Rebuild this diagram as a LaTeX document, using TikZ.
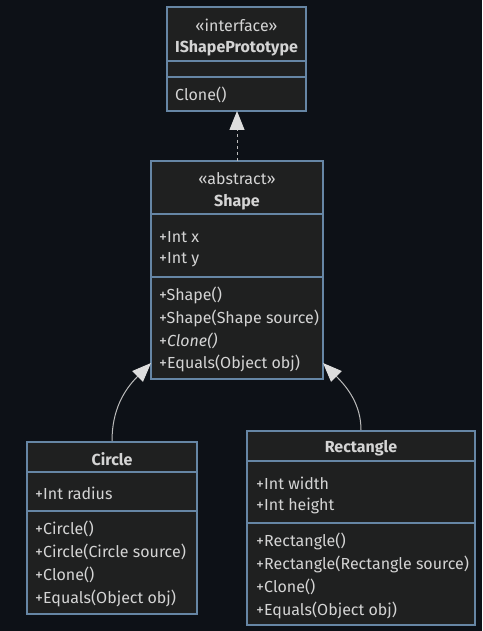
\documentclass[tikz,border=0pt]{standalone}
\usepackage{fontspec}
\setmainfont{Fira Sans}
\usetikzlibrary{arrows.meta}
\definecolor{bgc}{HTML}{0D1117}
\definecolor{boxfill}{HTML}{1F2020}
\definecolor{boxline}{HTML}{6686A5}
\definecolor{txt}{HTML}{D4D4D4}
\definecolor{edge}{HTML}{BBBBBB}
\definecolor{head}{HTML}{DDDDDD}
\tikzset{
  umlbox/.style={draw=boxline, fill=boxfill, line width=1.2pt, inner sep=0pt},
  ctext/.style={text=txt, inner sep=0pt, anchor=center, font=\fontsize{16}{19}\selectfont},
  ltext/.style={text=txt, inner sep=0pt, anchor=west, font=\fontsize{16}{19}\selectfont},
  sep/.style={draw=boxline, line width=1.2pt},
  inherit/.style={draw=edge, line width=1pt, -{Triangle[length=19pt,width=15pt,fill=head,color=head]}},
  realize/.style={draw=edge, line width=1pt, dash pattern=on 3pt off 3pt, -{Triangle[length=19pt,width=15pt,fill=head,color=head]}}
}
\begin{document}
\begin{tikzpicture}[x=1pt,y=-1pt]
\fill[bgc] (0,0) rectangle (482,631);
\useasboundingbox (0,0) rectangle (482,631);

% IShapePrototype
\node[umlbox, minimum width=139pt, minimum height=104pt] (iface) at (236.5,59) {};
\node[ctext] (ifaceSt) at (236.5,25) {«interface»};
\node[ctext, font=\fontsize{16}{19}\selectfont\bfseries] (ifaceN) at (236.5,48) {IShapePrototype};
\draw[sep] (167,61) -- (306,61);
\draw[sep] (167,77) -- (306,77);
\node[ltext] (ifaceM1) at (175,95) {Clone()};

% Shape
\node[umlbox, minimum width=172pt, minimum height=218pt] (shape) at (237,270) {};
\node[ctext] (shapeSt) at (237,179) {«abstract»};
\node[ctext, font=\fontsize{16}{19}\selectfont\bfseries] (shapeN) at (237,202) {Shape};
\draw[sep] (151,214) -- (323,214);
\node[ltext] (shapeA1) at (159,237) {+Int x};
\node[ltext] (shapeA2) at (159,260) {+Int y};
\draw[sep] (151,277) -- (323,277);
\node[ltext] (shapeM1) at (159,295) {+Shape()};
\node[ltext] (shapeM2) at (159,318) {+Shape(Shape source)};
\node[ltext] (shapeM3) at (159,341) {+\textit{Clone()}};
\node[ltext] (shapeM4) at (159,363) {+Equals(Object obj)};

% Circle
\node[umlbox, minimum width=170pt, minimum height=172pt] (circle) at (112,528) {};
\node[ctext, font=\fontsize{16}{19}\selectfont\bfseries] (circleN) at (112,459) {Circle};
\draw[sep] (27,472) -- (197,472);
\node[ltext] (circleA1) at (35,493) {+Int radius};
\draw[sep] (27,511) -- (197,511);
\node[ltext] (circleM1) at (35,529) {+Circle()};
\node[ltext] (circleM2) at (35,552) {+Circle(Circle source)};
\node[ltext] (circleM3) at (35,575) {+Clone()};
\node[ltext] (circleM4) at (35,598) {+Equals(Object obj)};

% Rectangle
\node[umlbox, minimum width=228pt, minimum height=194pt] (rect) at (361,528) {};
\node[ctext, font=\fontsize{16}{19}\selectfont\bfseries] (rectN) at (361,448) {Rectangle};
\draw[sep] (247,461) -- (475,461);
\node[ltext] (rectA1) at (256,483) {+Int width};
\node[ltext] (rectA2) at (256,506) {+Int height};
\draw[sep] (247,523) -- (475,523);
\node[ltext] (rectM1) at (256,541) {+Rectangle()};
\node[ltext] (rectM2) at (256,564) {+Rectangle(Rectangle source)};
\node[ltext] (rectM3) at (256,587) {+Clone()};
\node[ltext] (rectM4) at (256,610) {+Equals(Object obj)};

% connectors
\coordinate (shapeTop) at (237,161);
\coordinate (ifaceBot) at (237,111);
\draw[realize] (shapeTop) -- (ifaceBot);
\coordinate (circleTop) at (112,441);
\coordinate (shapeL) at (151,363);
\draw[inherit] (circleTop) .. controls (112,410) and (124,390) .. (shapeL);
\coordinate (rectTop) at (361,430);
\coordinate (shapeR) at (323,363);
\draw[inherit] (rectTop) .. controls (361,405) and (348,388) .. (shapeR);
\end{tikzpicture}
\end{document}
